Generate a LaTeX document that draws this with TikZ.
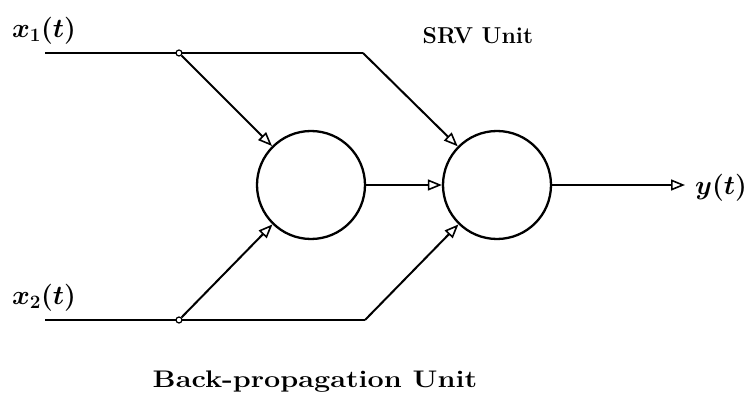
\RequirePackage{fix-cm}
\documentclass[tikz,border=0pt]{standalone}
\usetikzlibrary{arrows.meta}
\begin{document}
\begin{tikzpicture}[x=1pt,y=-1pt,
  wire/.style={line width=2pt},
  neuron/.style={circle,draw,line width=2.3pt,minimum size=108pt,inner sep=0pt},
  tip/.style={-{Triangle[open,length=14pt,width=11pt,line width=1.6pt]}},
  jdot/.style={circle,draw,fill=white,line width=1.2pt,minimum size=6pt,inner sep=0pt},
  lab/.style={font=\fontsize{27}{32}\selectfont\bfseries\boldmath, inner sep=0pt}]
\useasboundingbox (0,0) rectangle (748,398);
\node[neuron] (c1) at (311,185) {};
\node[neuron] (c2) at (497,185) {};
\coordinate (a1) at (45,53);
\coordinate (b1) at (363,53);
\coordinate (a2) at (45,320);
\coordinate (b2) at (365,320);
\coordinate (o) at (685,185);
\draw[wire] (a1) -- (b1);
\draw[wire] (a2) -- (b2);
\node[jdot] (j1) at (179,53) {};
\node[jdot] (j2) at (179,320) {};
\draw[wire,tip] (j1) -- (c1);
\draw[wire,tip] (j2) -- (c1);
\draw[wire,tip] (b1) -- (c2);
\draw[wire,tip] (b2) -- (c2);
\draw[wire,tip] (c1) -- (c2);
\draw[wire,tip] (c2) -- (o);
\node[lab] (x1) at (44,31) {$x_1(t)$};
\node[lab] (x2) at (44,298) {$x_2(t)$};
\node[lab] (y) at (721,188) {$y(t)$};
\node[lab,font=\fontsize{23}{27}\selectfont\bfseries] (srv) at (478,36) {SRV Unit};
\node[lab,font=\fontsize{24}{28}\selectfont\bfseries] (bp) at (315,382) {\scalebox{1.2}[1]{Back-propagation Unit}};
\end{tikzpicture}
\end{document}
